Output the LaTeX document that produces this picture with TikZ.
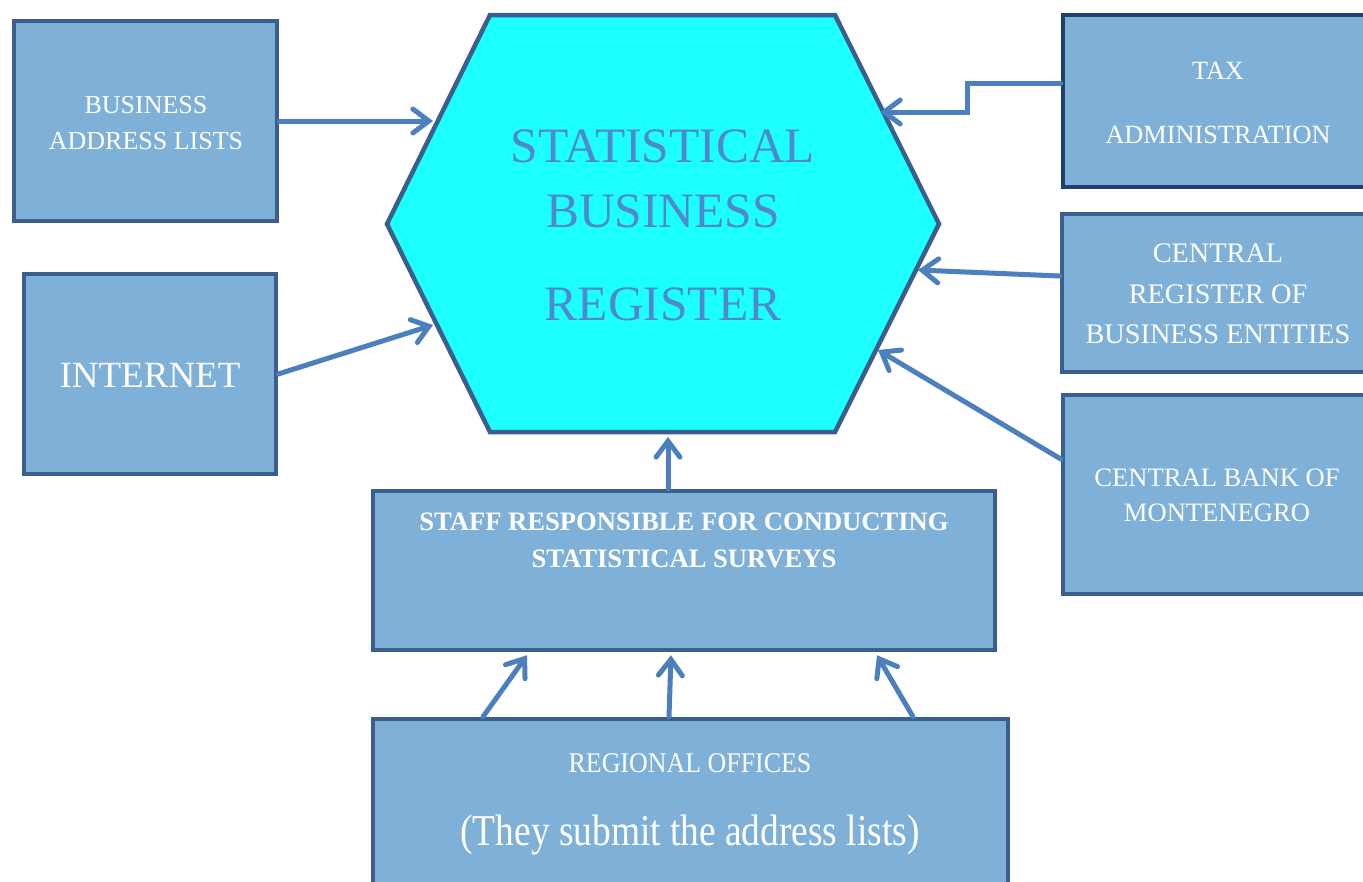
\documentclass[tikz,border=0pt]{standalone}
\usepackage{fontspec}
\setmainfont{Liberation Serif}
\usetikzlibrary{arrows.meta}
\definecolor{boxfill}{RGB}{126,176,216}
\definecolor{boxline}{RGB}{59,94,140}
\definecolor{taxline}{RGB}{31,64,104}
\definecolor{hexfill}{RGB}{28,255,255}
\definecolor{hextext}{RGB}{80,136,205}
\definecolor{arrcol}{RGB}{76,127,190}
\tikzset{
  box/.style={draw=boxline, fill=boxfill, line width=4.5pt, rectangle, inner sep=0pt},
  txt/.style={text=white, anchor=base, inner sep=0pt, align=center},
  hextxt/.style={text=hextext, anchor=base, inner sep=0pt, font=\fontsize{49.5}{49.5}\selectfont},
  arr/.style={draw=arrcol, line width=5pt, line cap=round, line join=miter,
    -{Straight Barb[length=16pt,width=24pt,line cap=round]}},
}
\begin{document}
\begin{tikzpicture}[x=1pt,y=-1pt]
\useasboundingbox (0,0) rectangle (1363,881);
% hexagon
\coordinate (h1) at (490,15);
\coordinate (h2) at (835,15);
\coordinate (h3) at (939,224);
\coordinate (h4) at (835,432);
\coordinate (h5) at (490,432);
\coordinate (h6) at (387,224);
\draw[draw=boxline, fill=hexfill, line width=4.5pt, line join=miter] (h1) -- (h2) -- (h3) -- (h4) -- (h5) -- (h6) -- cycle;
\node[hextxt] (t1) at (663,162) {STATISTICAL};
\node[hextxt] (t2) at (663,227) {BUSINESS};
\node[hextxt] (t3) at (663,320) {REGISTER};
% arrow tips on hexagon
\coordinate (tipBal) at (433,121);
\coordinate (tipInet) at (433,325);
\coordinate (tipTax) at (880,112);
\coordinate (tipCreg) at (918,270);
\coordinate (tipCbank) at (878,350);
\coordinate (tipStaff) at (668,437);
% boxes
\node[box, minimum width=263pt, minimum height=200pt] (bal) at (145.5,121) {};
\node[box, minimum width=252pt, minimum height=200pt] (inet) at (150,374) {};
\node[box, draw=taxline, minimum width=317pt, minimum height=172pt] (tax) at (1221.5,101) {};
\node[box, minimum width=318pt, minimum height=158pt] (creg) at (1221,293) {};
\node[box, minimum width=317pt, minimum height=199pt] (cbank) at (1221.5,494.5) {};
\node[box, minimum width=622pt, minimum height=159pt] (staff) at (684,570.5) {};
\node[box, minimum width=635pt, minimum height=181pt] (reg) at (690.5,809.5) {};
% texts
\begin{scope}[every node/.append style={txt}]
\node[font=\fontsize{26}{26}\selectfont] (a1) at (146,113) {BUSINESS};
\node[font=\fontsize{26}{26}\selectfont] (a2) at (146,149) {ADDRESS LISTS};
\node[font=\fontsize{37}{37}\selectfont] (b1) at (150,387) {INTERNET};
\node[font=\fontsize{26.3}{26.3}\selectfont] (c1) at (1218,79) {TAX};
\node[font=\fontsize{26.3}{26.3}\selectfont] (c2) at (1218,143) {ADMINISTRATION};
\node[font=\fontsize{28.3}{28.3}\selectfont] (d1) at (1218,262) {CENTRAL};
\node[font=\fontsize{28.3}{28.3}\selectfont] (d2) at (1218,303) {REGISTER OF};
\node[font=\fontsize{28.3}{28.3}\selectfont] (d3) at (1218,343) {BUSINESS ENTITIES};
\node[font=\fontsize{26.6}{26.6}\selectfont] (e1) at (1217,486) {CENTRAL BANK OF};
\node[font=\fontsize{26.6}{26.6}\selectfont] (e2) at (1217,521) {MONTENEGRO};
\node[font=\fontsize{26.6}{26.6}\selectfont\bfseries] (f1) at (684,530) {STAFF RESPONSIBLE FOR CONDUCTING};
\node[font=\fontsize{26.6}{26.6}\selectfont\bfseries] (f2) at (684,567) {STATISTICAL SURVEYS};
\node[font=\fontsize{28.5}{28.5}\selectfont] (g1) at (690,772) {\scalebox{0.91}[1]{REGIONAL OFFICES}};
\node[font=\fontsize{44}{44}\selectfont] (g2) at (690,845) {\scalebox{0.85}[1]{(They submit the address lists)}};
\end{scope}
% connectors
\draw[arr] (bal.east) -- (tipBal);
\draw[arr] (inet.east) -- (tipInet);
\draw[arr] ([yshift=18pt]tax.west) -- ++(-93pt,0) |- (tipTax);
\draw[arr] ([yshift=17pt]creg.west) -- (tipCreg);
\draw[arr] ([yshift=35.5pt]cbank.west) -- (tipCbank);
\draw[arr] ([xshift=-16pt]staff.north) -- (tipStaff);
\draw[arr] ([xshift=-207.5pt]reg.north) -- ([xshift=-157pt,yshift=-3pt]staff.south);
\draw[arr] ([xshift=-21.5pt]reg.north) -- ([xshift=-13pt,yshift=-3pt]staff.south);
\draw[arr] ([xshift=222.5pt]reg.north) -- ([xshift=193pt,yshift=-3pt]staff.south);
\end{tikzpicture}
\end{document}
